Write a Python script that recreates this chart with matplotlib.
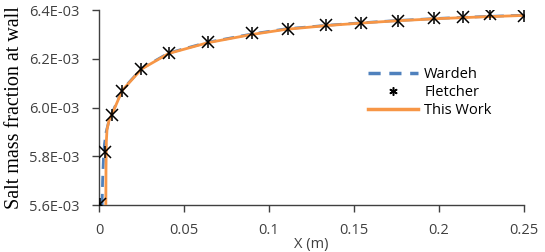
import numpy as np
import matplotlib
matplotlib.use("Agg")
import matplotlib.pyplot as plt
from matplotlib.ticker import FuncFormatter

# Fletcher data points
fletcher_x = [0.0006, 0.0035, 0.0079, 0.0136, 0.0246, 0.0409, 0.0639, 0.0898,
              0.1112, 0.1337, 0.1543, 0.1759, 0.1969, 0.2142, 0.2299, 0.25]
fletcher_y = [5.604e-3, 5.817e-3, 5.969e-3, 6.069e-3, 6.157e-3, 6.222e-3, 6.267e-3, 6.304e-3,
              6.323e-3, 6.338e-3, 6.348e-3, 6.356e-3, 6.366e-3, 6.372e-3, 6.382e-3, 6.377e-3]

# Wardeh curve
wardeh_x = [0.0018, 0.0021, 0.0026, 0.0032, 0.0042, 0.0060, 0.0085, 0.0136, 0.025, 0.041,
            0.064, 0.09, 0.11, 0.135, 0.155, 0.175, 0.2, 0.225, 0.25]
wardeh_y = [5.600e-3, 5.700e-3, 5.790e-3, 5.850e-3, 5.900e-3, 5.950e-3, 5.990e-3, 6.072e-3,
            6.160e-3, 6.224e-3, 6.268e-3, 6.302e-3, 6.323e-3, 6.338e-3, 6.348e-3, 6.357e-3,
            6.366e-3, 6.373e-3, 6.379e-3]

# This Work curve
work_x = [0.0040, 0.0041, 0.0043, 0.0047, 0.0058, 0.0080, 0.0136, 0.025, 0.041,
          0.064, 0.09, 0.11, 0.135, 0.155, 0.175, 0.2, 0.225, 0.25]
work_y = [5.600e-3, 5.750e-3, 5.860e-3, 5.910e-3, 5.945e-3, 5.978e-3, 6.070e-3, 6.158e-3,
          6.222e-3, 6.266e-3, 6.300e-3, 6.321e-3, 6.337e-3, 6.347e-3, 6.356e-3, 6.365e-3,
          6.372e-3, 6.378e-3]

xticks = [0, 0.05, 0.1, 0.15, 0.2, 0.25]
xtick_labels = ["0", "0.05", "0.1", "0.15", "0.2", "0.25"]
yticks = [5.6e-3, 5.8e-3, 6.0e-3, 6.2e-3, 6.4e-3]

fig = plt.figure(figsize=(5.45, 2.52), dpi=100)
ax = fig.add_axes([0.1817, 0.1865, 0.7798, 0.7735])

ax.plot(wardeh_x, wardeh_y, color="#4f81bd", lw=2, dashes=(4, 2.5), zorder=2)
ax.plot(work_x, work_y, color="#f79646", lw=2, zorder=3)
# star marker: x plus vertical bar
ax.plot(fletcher_x, fletcher_y, ls="none", marker="x", ms=8, mew=1.1, color="black", zorder=4)
ax.plot(fletcher_x, fletcher_y, ls="none", marker="|", ms=8, mew=1.1, color="black", zorder=4)

h_w, = ax.plot([], [], color="#4f81bd", lw=2.5, dashes=(3.5, 2.5))
h_f, = ax.plot([], [], ls="none", marker=(6, 2, 0), ms=6, mew=1.1, color="black")
h_t, = ax.plot([], [], color="#f79646", lw=2.5)
ax.legend([h_w, h_f, h_t], ["Wardeh", "Fletcher", "This Work"], frameon=False,
          loc="upper left", bbox_to_anchor=(0.633, 0.71), handlelength=3.4,
          handletextpad=0.45, labelspacing=0.22, borderpad=0, borderaxespad=0,
          prop={"family": "Open Sans", "size": 10.5})

ax.set_xlim(0, 0.25)
ax.set_ylim(5.6e-3, 6.4e-3)
ax.set_xticks(xticks)
ax.set_xticklabels(xtick_labels)
ax.set_yticks(yticks)
ax.yaxis.set_major_formatter(FuncFormatter(lambda v, p: "%.1fE-03" % (v * 1e3)))

for lab in ax.get_xticklabels() + ax.get_yticklabels():
    lab.set_fontfamily("Open Sans")
    lab.set_fontsize(10.5)
    lab.set_color("#404040")

for s in ["top", "right"]:
    ax.spines[s].set_visible(False)
for s in ["left", "bottom"]:
    ax.spines[s].set_color("#404040")
    ax.spines[s].set_linewidth(1)
ax.tick_params(axis="both", direction="out", length=5, color="#404040", width=1)
ax.tick_params(axis="x", pad=8)
ax.tick_params(axis="y", pad=9)

ax.set_xlabel("X (m)", fontfamily="Open Sans", fontsize=10.5, color="#404040", labelpad=-1)
ax.set_ylabel("Salt mass fraction at wall", fontfamily="Liberation Serif", fontsize=14.5,
              labelpad=4)

fig.savefig("out.png", dpi=100)
